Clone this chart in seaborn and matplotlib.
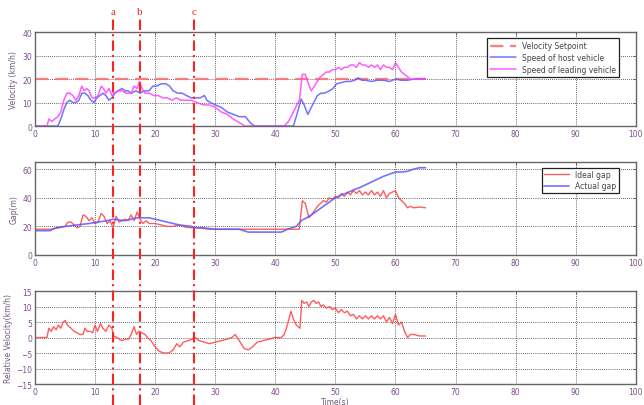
import matplotlib
matplotlib.use("Agg")
import matplotlib.pyplot as plt
import matplotlib.transforms as mtransforms
import seaborn as sns

# --- data ---
# top panel: speeds (km/h)
set_t = [0, 65]
set_v = [20, 20]

lead_t = [0, 2.0, 2.3, 2.8, 3.3, 3.8, 4.3, 4.8, 5.3, 5.8,
          6.3, 6.8, 7.3, 7.8, 8.2, 8.6, 9.0, 9.5, 10.0, 10.5,
          11.0, 11.4, 11.8, 12.3, 12.8, 13.2, 13.8, 14.5, 15.2, 16.0,
          16.5, 17.0, 17.4, 17.8, 18.3, 19.0, 19.8, 20.5, 21.3, 22.0,
          22.8, 23.5, 24.3, 25.0, 26.0, 27.0, 28.0, 29.0, 30.0, 31.0,
          32.0, 33.0, 34.0, 35.0, 36.0, 37.0, 41.5, 42.2, 43.0, 43.6,
          44.0, 44.5, 45.0, 45.5, 46.0, 46.5, 47.0, 47.5, 48.0, 48.5,
          49.0, 49.5, 50.0, 50.5, 51.0, 51.5, 52.0, 52.5, 53.0, 53.5,
          54.0, 54.5, 55.0, 55.5, 56.0, 56.5, 57.0, 57.5, 58.0, 58.5,
          59.0, 59.5, 60.0, 60.5, 61.0, 61.5, 62.0, 62.5, 63.0, 64.0,
          65.0]
lead_v = [0, 0, 3, 2, 3, 4, 6, 11, 14, 14,
          13, 11, 13, 17, 15, 16, 15, 12, 12, 13,
          17, 16, 14, 16, 13, 14, 15, 15, 14, 14,
          17, 16, 19, 16, 14, 14, 13, 13, 12, 12,
          11, 12, 11, 11, 11, 10, 9, 9, 8, 6,
          5, 3, 1.5, 0, 0, 0, 0, 2, 6, 9,
          11, 22, 22, 18, 15, 17, 19, 21, 22, 23,
          23, 24, 24, 25, 24, 25, 25, 26, 26, 25,
          27, 26, 26, 25, 26, 25, 26, 24, 26, 25,
          25, 24, 27, 25, 23, 22, 21, 20, 20, 20,
          20]

host_t = [0, 3.8, 4.3, 4.8, 5.3, 5.8, 6.3, 6.8, 7.3, 7.8,
          8.3, 8.8, 9.3, 9.8, 10.3, 10.8, 11.3, 11.8, 12.3, 12.8,
          13.3, 13.8, 14.5, 15.0, 15.5, 16.0, 16.8, 17.5, 18.2, 19.0,
          19.6, 20.2, 21.0, 21.8, 22.4, 23.0, 23.8, 24.5, 25.2, 26.0,
          26.8, 27.5, 28.2, 28.6, 29.2, 30.0, 31.0, 32.0, 33.0, 34.0,
          35.0, 36.0, 36.6, 43.0, 43.6, 44.3, 44.8, 45.4, 45.8, 46.4,
          47.0, 47.6, 48.2, 49.0, 49.6, 50.2, 51.0, 51.8, 52.5, 53.2,
          53.8, 54.4, 55.0, 56.0, 57.0, 58.0, 59.0, 60.0, 61.0, 62.0,
          63.0, 64.0, 65.0]
host_v = [0, 0, 3, 7, 10, 11, 10, 10, 11, 14,
          14, 13, 11, 10, 12, 13, 14, 13, 11, 12,
          14, 15, 16, 15, 15, 14, 15, 14, 15, 15,
          17, 17, 18, 18, 17, 15, 14, 14, 13, 12,
          12, 12, 13, 11, 10, 9, 8, 6, 5, 4,
          4, 1, 0, 0, 5, 11.5, 9, 5, 7, 10,
          13, 14, 14, 15, 16, 18, 18.5, 19, 19, 19.5,
          20.5, 19.5, 19.5, 19, 19.5, 19.5, 19, 20, 19.5, 19.5,
          20, 20, 20]

# middle panel: gaps (m)
ideal_t = [0, 2.5, 4.0, 5.0, 5.5, 6.0, 6.5, 7.0, 7.5, 8.0,
           8.5, 9.0, 9.5, 10.0, 10.5, 11.0, 11.5, 12.0, 12.5, 13.0,
           13.5, 14.0, 14.5, 15.0, 15.5, 16.0, 16.5, 17.0, 17.5, 18.0,
           18.5, 19.0, 20.0, 21.0, 22.0, 23.0, 24.0, 25.0, 26.0, 27.0,
           28.0, 29.0, 30.0, 44.0, 44.5, 45.0, 45.6, 46.2, 47.0, 47.5,
           48.0, 48.5, 49.0, 49.5, 50.0, 50.5, 51.0, 51.5, 52.0, 52.5,
           53.0, 53.5, 54.0, 54.5, 55.0, 55.5, 56.0, 56.5, 57.0, 57.5,
           58.0, 58.5, 59.0, 59.5, 60.0, 60.5, 61.0, 61.5, 62.0, 62.5,
           63.0, 64.0, 65.0]
ideal_v = [18, 18, 19, 20, 23, 23, 21, 19, 20, 28,
           27, 24, 26, 22, 23, 29, 27, 22, 24, 19,
           27, 23, 24, 25, 24, 28, 24, 30, 25, 22,
           24, 22, 22, 21, 20, 20, 21, 19.5, 19, 19,
           18.5, 18, 18, 18, 38, 36, 26, 29, 34, 36,
           38, 37, 40, 39, 41, 40, 43, 41, 44, 42,
           45, 43, 45, 42, 44, 42, 45, 42, 44, 41,
           45, 40, 43, 44, 45, 40, 38, 36, 33, 34,
           33, 33.5, 33]

actual_t = [0, 2.5, 3.5, 5.0, 7.0, 9.0, 10.5, 12.0, 13.0, 14.0,
            15.0, 16.0, 17.0, 18.0, 19.0, 20.0, 21.0, 22.0, 23.0, 24.0,
            25.0, 26.0, 27.0, 28.0, 29.0, 30.0, 34.0, 35.5, 41.0, 42.0,
            43.5, 44.3, 45.0, 46.0, 47.0, 48.0, 49.0, 50.0, 51.0, 52.0,
            53.0, 54.0, 55.0, 56.0, 57.0, 58.0, 59.0, 60.0, 61.0, 62.0,
            63.0, 64.0, 65.0]
actual_v = [17, 17, 19, 20, 21, 22, 23, 24, 25, 24.5,
            24, 25, 26, 26, 26, 25, 24, 23, 22, 21,
            20.5, 20, 19, 19, 18.5, 18, 18, 16, 16, 18,
            20, 24, 25.5, 28, 31, 34, 37, 40, 42, 43.5,
            45.5, 47, 49, 51, 53, 55, 56.5, 58, 58, 58.5,
            60, 61, 61]

# bottom panel: relative velocity (km/h)
rel_t = [0, 2.0, 2.3, 2.7, 3.1, 3.5, 3.9, 4.3, 4.7, 5.0,
         5.4, 6.0, 6.5, 7.0, 7.5, 8.0, 8.3, 8.7, 9.2, 9.6,
         10.0, 10.4, 10.9, 11.3, 11.8, 12.3, 12.8, 13.1, 13.6, 14.0,
         14.5, 15.0, 15.6, 16.0, 16.5, 16.9, 17.3, 17.8, 18.3, 18.7,
         19.3, 20.0, 20.7, 21.5, 22.3, 23.0, 23.6, 24.1, 24.7, 25.5,
         26.3, 26.7, 27.3, 28.2, 29.0, 30.0, 31.0, 32.0, 32.8, 33.3,
         34.0, 34.8, 35.5, 36.2, 37.0, 38.0, 39.0, 40.0, 41.0, 41.5,
         42.0, 42.6, 43.0, 43.5, 44.1, 44.4, 44.8, 45.2, 45.6, 46.0,
         46.4, 46.8, 47.2, 47.6, 48.0, 48.5, 49.0, 49.5, 50.0, 50.5,
         51.0, 51.5, 52.0, 52.5, 53.0, 53.5, 54.0, 54.5, 55.0, 55.5,
         56.0, 56.5, 57.0, 57.5, 58.0, 58.5, 59.0, 59.5, 60.0, 60.5,
         61.0, 61.5, 62.0, 62.5, 63.0, 64.0, 65.0]
rel_v = [0, 0, 3, 2, 3.5, 2.5, 4, 3, 5, 5.5,
         4, 3, 2, 1.5, 1, 1, 3, 2, 2, 1.5,
         4, 2, 4.5, 3, 2, 4, 3, 0.5, 0, -0.5,
         -1, -0.5, -0.5, 1, 3.5, 1, 2, 1.5, 1, 0,
         -1, -3, -4.5, -5, -5, -4, -2, -3, -1.5, -1,
         -0.5, 0, -1, -1.5, -2, -1.5, -1, -0.5, 0, 1,
         -1, -3.5, -4, -3, -1.5, -1, -0.5, 0, 0, 1,
         4, 8.5, 6, 4, 3, 12, 11, 11.5, 10, 11.5,
         12, 11, 11.5, 10, 10.5, 9.5, 10, 9, 9.5, 8,
         9, 8, 8.5, 7, 7.5, 6, 7, 6, 7, 6,
         7, 6, 7, 6, 7, 5, 6.5, 4.5, 7.5, 4,
         5, 2, 0, 1, 1, 0.5, 0.5]

# instants marked across all panels
mark_t = [13.0, 17.4, 26.5]
mark_lbl = ["a", "b", "c"]

# --- styling ---
sns.set_theme(style="white")
plt.rcParams["font.family"] = ["DejaVu Sans"]

tick_col = "#7b4f8c"
lab_col = "#6e5a78"
blue = "#5a5aff"
magenta = "#ff40ff"
red = "#ff4040"

fig = plt.figure(figsize=(6.44, 4.06), dpi=100)
fig.patch.set_facecolor("white")
left, width = 0.0543, 0.933
ax1 = fig.add_axes([left, 0.687, width, 0.2315])
ax2 = fig.add_axes([left, 0.3695, width, 0.229])
ax3 = fig.add_axes([left, 0.0517, width, 0.229])

sns.lineplot(x=set_t, y=set_v, ax=ax1, color="#ff7070", linewidth=1.6,
             linestyle=(0, (6, 3)), alpha=0.9, label="Velocity Setpoint")
sns.lineplot(x=host_t, y=host_v, ax=ax1, color=blue, linewidth=1.1,
             alpha=0.85, label="Speed of host vehicle")
sns.lineplot(x=lead_t, y=lead_v, ax=ax1, color=magenta, linewidth=1.1,
             alpha=0.85, label="Speed of leading vehicle")

sns.lineplot(x=ideal_t, y=ideal_v, ax=ax2, color=red, linewidth=1.0,
             alpha=0.85, label="Ideal gap")
sns.lineplot(x=actual_t, y=actual_v, ax=ax2, color=blue, linewidth=1.2,
             alpha=0.85, label="Actual gap")

sns.lineplot(x=rel_t, y=rel_v, ax=ax3, color=red, linewidth=1.0,
             alpha=0.85, legend=False)

ax1.set_ylim(0, 40)
ax1.set_yticks([0, 10, 20, 30, 40])
ax2.set_ylim(0, 65)
ax2.set_yticks([0, 20, 40, 60])
ax3.set_ylim(-15, 15)
ax3.set_yticks(range(-15, 16, 5))

for ax in (ax1, ax2, ax3):
    ax.set_xlim(0, 100)
    ax.set_xticks(range(0, 101, 10))
    ax.set_facecolor("white")
    ax.grid(True, linestyle=(0, (1, 1.5)), color="#333333", linewidth=0.6)
    ax.tick_params(direction="in", length=2.5, width=0.6, top=True, right=True,
                   labelsize=5.5, labelcolor=tick_col, color="#555555", pad=2)
    for s in ax.spines.values():
        s.set_color("#666666")
        s.set_linewidth(1.0)
    ax.set_xlabel("")

ax1.set_ylabel("Velocity (km/h)", fontsize=5.5, color=lab_col, labelpad=3)
ax2.set_ylabel("Gap(m)", fontsize=5.5, color=lab_col, labelpad=3)
ax3.set_ylabel("Relative Velocity(km/h)", fontsize=5.5, color=lab_col, labelpad=2)
ax3.set_xlabel("Time(s)", fontsize=5.5, color=lab_col, labelpad=1)

leg1 = ax1.legend(loc="upper right", bbox_to_anchor=(0.978, 0.975), fontsize=5.5,
                  handlelength=3.3, fancybox=False, framealpha=1,
                  edgecolor="#222222", borderpad=0.4, labelspacing=0.35)
leg2 = ax2.legend(loc="upper right", bbox_to_anchor=(0.978, 0.98), fontsize=5.5,
                  handlelength=3.3, fancybox=False, framealpha=1,
                  edgecolor="#222222", borderpad=0.3, labelspacing=0.3)
for lg in (leg1, leg2):
    lg.get_frame().set_linewidth(0.9)
    for txt in lg.get_texts():
        txt.set_color("#444444")

# vertical dash-dot markers spanning the whole figure
trans = mtransforms.blended_transform_factory(ax1.transData, fig.transFigure)
for t, lbl in zip(mark_t, mark_lbl):
    fig.add_artist(plt.Line2D([t, t], [0.0, 0.952], transform=trans,
                              color="#ff2020", linewidth=1.5,
                              linestyle=(0, (5, 2, 1, 2)), zorder=10))
    fig.text(t, 0.968, lbl, transform=trans, ha="center", va="center",
             fontsize=8, color="#e02828", family=["Liberation Serif", "DejaVu Serif"])

fig.savefig("out.png", dpi=100, facecolor="white")
